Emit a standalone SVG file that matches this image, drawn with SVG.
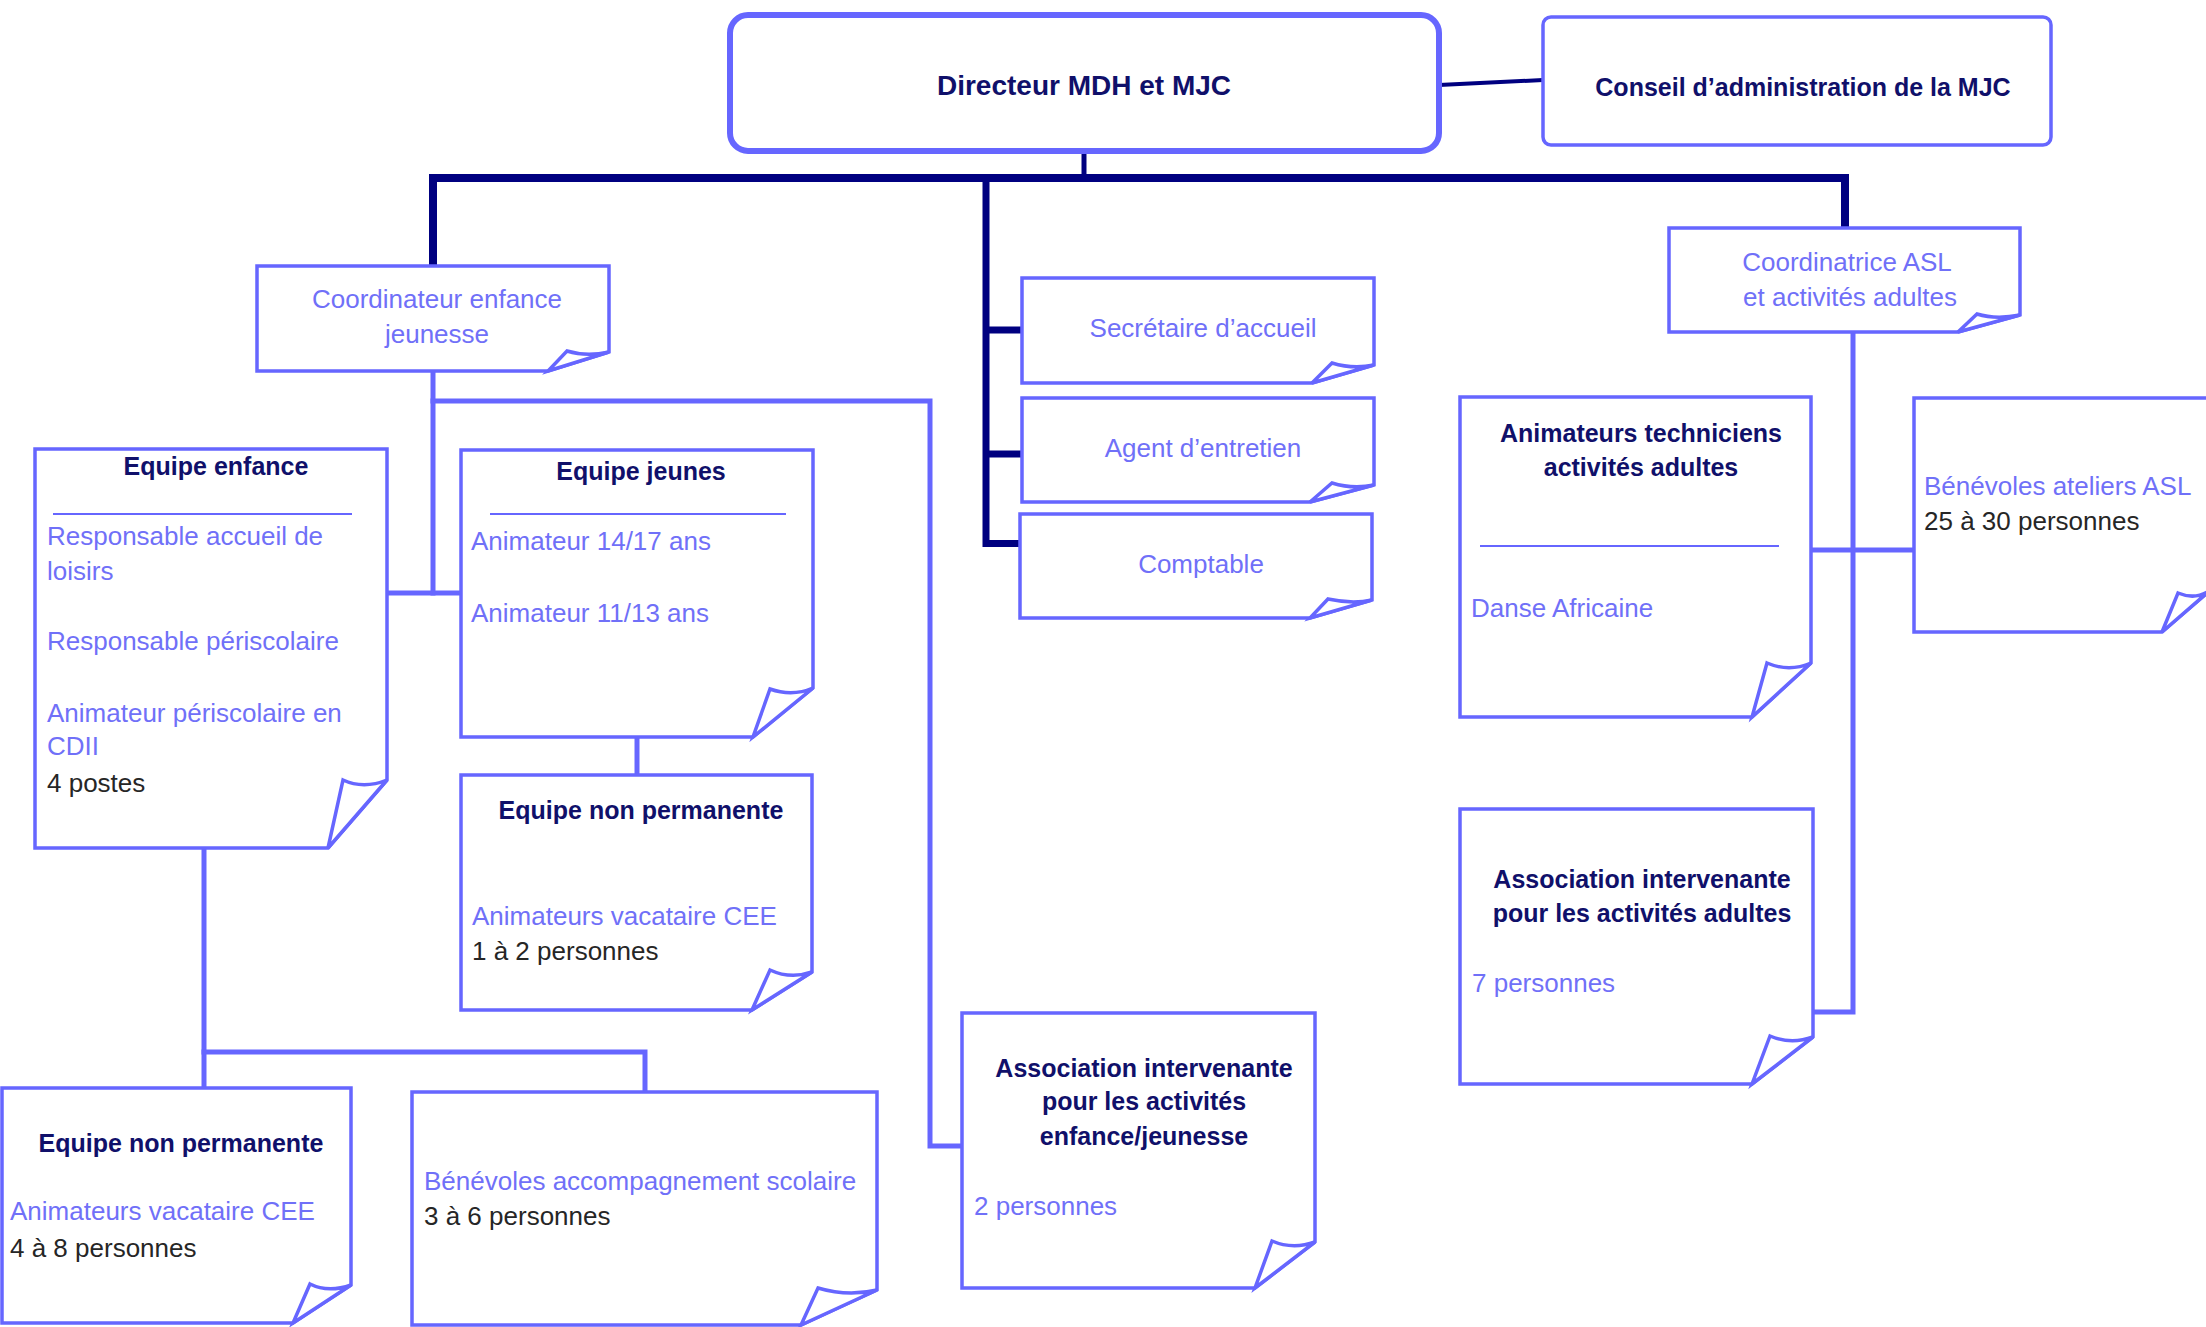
<svg xmlns="http://www.w3.org/2000/svg" width="2206" height="1327" viewBox="0 0 2206 1327">
<style>
.bg{fill:#ffffff}
.box{fill:#ffffff;stroke:#6666ff;stroke-width:3.5;stroke-linejoin:miter}
.flap{fill:#ffffff;stroke:#6666ff;stroke-width:3.5;stroke-linejoin:miter}
.sep{stroke:#6666ff;stroke-width:2;fill:none}
.nv{stroke:#000080;fill:none;stroke-linejoin:miter;stroke-linecap:butt}
.lc{stroke:#6666ff;stroke-width:5;fill:none;stroke-linejoin:miter;stroke-linecap:square}
text{font-family:"Liberation Sans",Arial,sans-serif}
.t{font-size:26px;fill:#7070f8}
.d{font-size:26px;fill:#262626}
.b{font-size:25px;font-weight:bold;fill:#10106a}
.c{text-anchor:middle}
</style>
<rect class="bg" x="0" y="0" width="2206" height="1327"/>

<g id="connectors">
  <line class="nv" x1="1439" y1="85" x2="1543" y2="80" stroke-width="4"/>
  <line class="nv" x1="1084" y1="151" x2="1084" y2="178" stroke-width="5"/>
  <path class="nv" d="M433,266 V178 H1845 V228" stroke-width="8"/>
  <line class="nv" x1="986" y1="178" x2="986" y2="547" stroke-width="7"/>
  <line class="nv" x1="986" y1="330" x2="1021" y2="330" stroke-width="7"/>
  <line class="nv" x1="986" y1="454" x2="1021" y2="454" stroke-width="7"/>
  <line class="nv" x1="986" y1="543.5" x2="1020" y2="543.5" stroke-width="7"/>

  <path class="lc" d="M433,373 V593"/>
  <path class="lc" d="M389,593 H459"/>
  <path class="lc" d="M433,401 H930 V1146 H960"/>
  <path class="lc" d="M637,739 V773"/>
  <path class="lc" d="M204,850 V1086"/>
  <path class="lc" d="M204,1052 H645 V1090"/>
  <path class="lc" d="M1853,334 V1012 H1815"/>
  <path class="lc" d="M1813,550 H1912"/>
</g>

<g id="directeur">
  <rect x="730" y="15" width="709" height="136" rx="18" ry="18" fill="#ffffff" stroke="#6666ff" stroke-width="6"/>
  <text class="b c" x="1084" y="95" style="font-size:28px">Directeur MDH et MJC</text>
</g>

<g id="conseil">
  <rect x="1543" y="17" width="508" height="128" rx="8" ry="8" fill="#ffffff" stroke="#6666ff" stroke-width="3.5"/>
  <text class="b c" x="1803" y="96">Conseil d’administration de la MJC</text>
</g>

<g id="coordinateur">
  <path class="box" d="M257,266 H609 V352 L548,371 H257 Z"/>
  <path class="flap" d="M609,352 C595,355 580,355 567,351 L548,371 Z"/>
  <text class="t c" x="437" y="308">Coordinateur enfance</text>
  <text class="t c" x="437" y="343">jeunesse</text>
</g>

<g id="secretaire">
  <path class="box" d="M1022,278 H1374 V365 L1312,383 H1022 Z"/>
  <path class="flap" d="M1374,365 C1360,368 1345,367 1332,363 L1312,383 Z"/>
  <text class="t c" x="1203" y="337">Secrétaire d’accueil</text>
</g>

<g id="agent">
  <path class="box" d="M1022,398 H1374 V485 L1310,502 H1022 Z"/>
  <path class="flap" d="M1374,485 C1360,488 1345,487 1332,483 L1310,502 Z"/>
  <text class="t c" x="1203" y="457">Agent d’entretien</text>
</g>

<g id="comptable">
  <path class="box" d="M1020,514 H1372 V600 L1310,618 H1020 Z"/>
  <path class="flap" d="M1372,600 C1358,603 1342,602 1328,599 L1310,618 Z"/>
  <text class="t c" x="1201" y="573">Comptable</text>
</g>

<g id="coordinatrice">
  <path class="box" d="M1669,228 H2020 V315 L1958,332 H1669 Z"/>
  <path class="flap" d="M2020,315 C2005,318 1990,318 1977,314 L1958,332 Z"/>
  <text class="t c" x="1847" y="271">Coordinatrice ASL</text>
  <text class="t c" x="1850" y="306">et activités adultes</text>
</g>

<g id="equipe-enfance">
  <path class="box" d="M35,449 H387 V780 L328,848 H35 Z"/>
  <path class="flap" d="M387,780 C372,786 356,786 343,780 L328,848 Z"/>
  <text class="b c" x="216" y="475">Equipe enfance</text>
  <line class="sep" x1="53" y1="514" x2="352" y2="514"/>
  <text class="t" x="47" y="545">Responsable accueil de</text>
  <text class="t" x="47" y="580">loisirs</text>
  <text class="t" x="47" y="650">Responsable périscolaire</text>
  <text class="t" x="47" y="722">Animateur périscolaire en</text>
  <text class="t" x="47" y="755">CDII</text>
  <text class="d" x="47" y="792">4 postes</text>
</g>

<g id="equipe-jeunes">
  <path class="box" d="M461,450 H813 V688 L753,737 H461 Z"/>
  <path class="flap" d="M813,688 C799,694 784,694 770,689 L753,737 Z"/>
  <text class="b c" x="641" y="480">Equipe jeunes</text>
  <line class="sep" x1="490" y1="514" x2="786" y2="514"/>
  <text class="t" x="471" y="550">Animateur 14/17 ans</text>
  <text class="t" x="471" y="622">Animateur 11/13 ans</text>
</g>

<g id="equipe-non-permanente-jeunes">
  <path class="box" d="M461,775 H812 V972 L752,1010 H461 Z"/>
  <path class="flap" d="M812,972 C798,977 783,976 770,970 L752,1010 Z"/>
  <text class="b c" x="641" y="819">Equipe non permanente</text>
  <text class="t" x="472" y="925">Animateurs vacataire CEE</text>
  <text class="d" x="472" y="960">1 à 2 personnes</text>
</g>

<g id="equipe-non-permanente-enfance">
  <path class="box" d="M2,1088 H351 V1285 L293,1323 H2 Z"/>
  <path class="flap" d="M351,1285 C337,1290 322,1290 310,1284 L293,1323 Z"/>
  <text class="b c" x="181" y="1152">Equipe non permanente</text>
  <text class="t" x="10" y="1220">Animateurs vacataire CEE</text>
  <text class="d" x="10" y="1257">4 à 8 personnes</text>
</g>

<g id="benevoles-scolaire">
  <path class="box" d="M412,1092 H877 V1290 L801,1325 H412 Z"/>
  <path class="flap" d="M877,1290 C860,1294 838,1294 818,1288 L801,1325 Z"/>
  <text class="t" x="424" y="1190">Bénévoles accompagnement scolaire</text>
  <text class="d" x="424" y="1225">3 à 6 personnes</text>
</g>

<g id="association-enfance">
  <path class="box" d="M962,1013 H1315 V1242 L1255,1288 H962 Z"/>
  <path class="flap" d="M1315,1242 C1301,1247 1286,1247 1272,1241 L1255,1288 Z"/>
  <text class="b c" x="1144" y="1077">Association intervenante</text>
  <text class="b c" x="1144" y="1110">pour les activités</text>
  <text class="b c" x="1144" y="1145">enfance/jeunesse</text>
  <text class="t" x="974" y="1215">2 personnes</text>
</g>

<g id="animateurs-techniciens">
  <path class="box" d="M1460,397 H1811 V663 L1752,717 H1460 Z"/>
  <path class="flap" d="M1811,663 C1797,669 1781,669 1767,663 L1752,717 Z"/>
  <text class="b c" x="1641" y="442">Animateurs techniciens</text>
  <text class="b c" x="1641" y="476">activités adultes</text>
  <line class="sep" x1="1480" y1="546" x2="1779" y2="546"/>
  <text class="t" x="1471" y="617">Danse Africaine</text>
</g>

<g id="benevoles-asl">
  <path class="box" d="M1914,398 H2214 V587 L2162,632 H1914 Z"/>
  <path class="flap" d="M2214,587 C2202,598 2190,598 2178,593 L2162,632 Z"/>
  <text class="t" x="1924" y="495">Bénévoles ateliers ASL</text>
  <text class="d" x="1924" y="530">25 à 30 personnes</text>
</g>

<g id="association-adultes">
  <path class="box" d="M1460,809 H1813 V1037 L1752,1084 H1460 Z"/>
  <path class="flap" d="M1813,1037 C1799,1042 1784,1042 1770,1036 L1752,1084 Z"/>
  <text class="b c" x="1642" y="888">Association intervenante</text>
  <text class="b c" x="1642" y="922">pour les activités adultes</text>
  <text class="t" x="1472" y="992">7 personnes</text>
</g>
</svg>
